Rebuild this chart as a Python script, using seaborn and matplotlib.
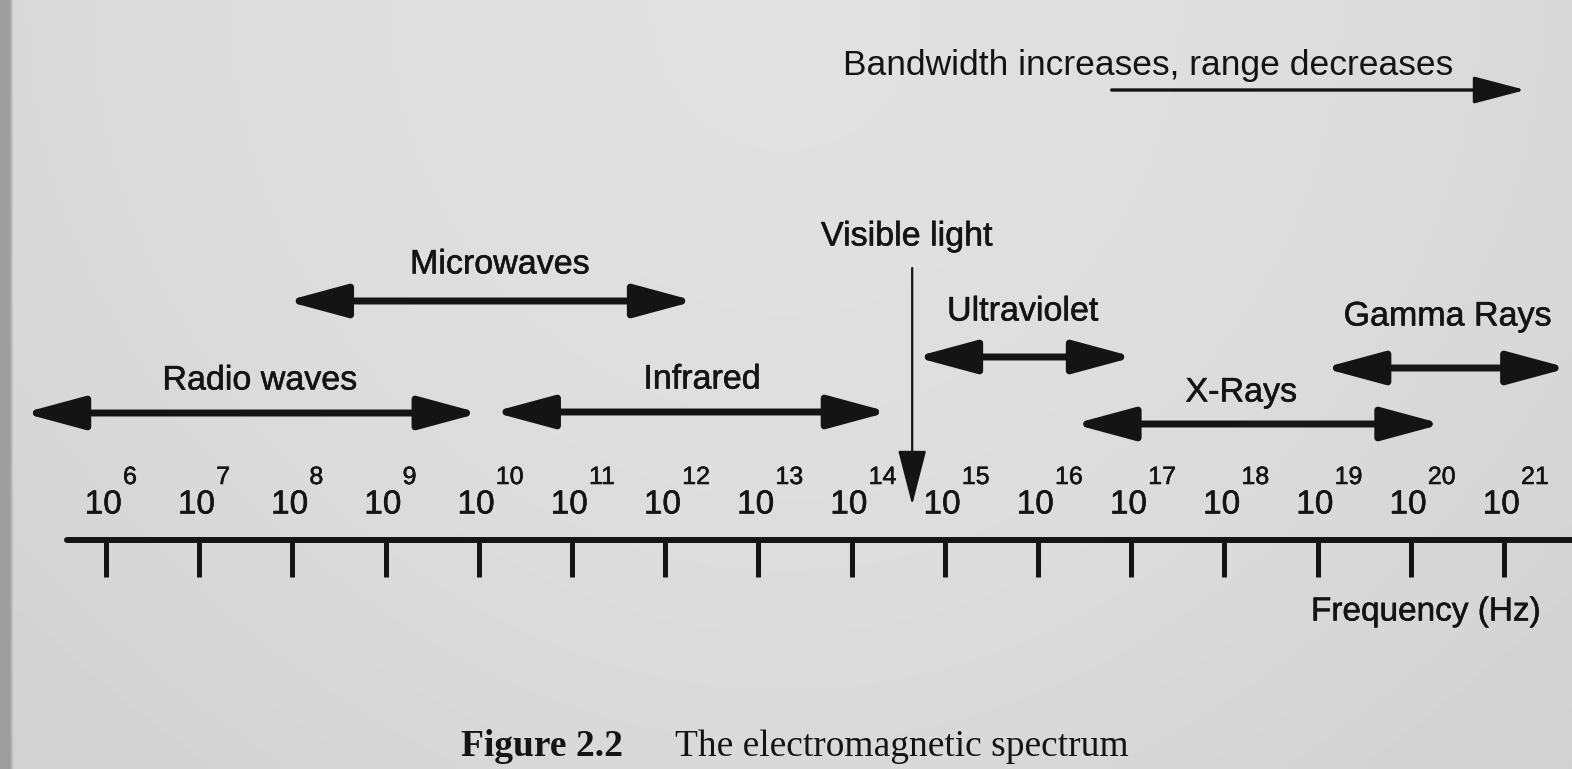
import numpy as np
import matplotlib
matplotlib.use('Agg')
import matplotlib.pyplot as plt
import matplotlib.patheffects as pe
import seaborn as sns

# frequency ranges of each band, as log10(Hz)
bands = ['Radio waves', 'Microwaves', 'Infrared', 'Ultraviolet', 'X-Rays', 'Gamma Rays']
band_lo = [5.11, 7.93, 10.15, 14.68, 16.38, 19.06]
band_hi = [10.01, 12.32, 14.40, 17.03, 20.34, 21.69]
visible_light = 14.65
exponents = list(range(6, 22))
trend_lo, trend_hi = 16.79, 21.23
trend_text = 'Bandwidth increases, range decreases'

# layout (pixels from the top of the page)
W, H = 1572, 769
px_per_decade = 93.2
first_tick_px = 106
arrow_y = [413, 301, 412, 357, 424, 368]
label_y = [381, 265, 380, 312, 393, 317]
label_dx = [0.09, 0.10, 0.12, -0.02, -0.18, 0.02]
axis_y, tick_len = 540, 37

ink = '#141414'
paper = '#dcdcdc'
bold_ink = [pe.withStroke(linewidth=0.4, foreground=ink)]

sns.set_theme(style='white')
plt.rcParams['font.family'] = ['Liberation Sans', 'DejaVu Sans']

fig = plt.figure(figsize=(W / 100, H / 100), dpi=100, facecolor=paper)
ax = fig.add_axes([0, 0, 1, 1])
x0 = exponents[0] - first_tick_px / px_per_decade
x1 = x0 + W / px_per_decade
ax.set_xlim(x0, x1)
ax.set_ylim(H, 0)
ax.set_facecolor(paper)
ax.axis('off')

# paper shading: darker strip at the left edge and slightly darker bottom
xs = np.linspace(0, 1, 400)
ys = np.linspace(0, 1, 60)[:, None]
shade = (0.85 + 0.03 * np.sin(np.pi * xs)) - 0.03 * ys ** 2
shade[:, :3] = 0.62
ax.imshow(shade, cmap='gray', vmin=0, vmax=1, extent=(x0, x1, H, 0),
          aspect='auto', zorder=0, interpolation='bilinear')

# frequency axis
sns.lineplot(x=[exponents[0] - 0.42, x1], y=[axis_y, axis_y], ax=ax,
             color=ink, lw=4.3, zorder=3)
ax.vlines(exponents, axis_y, axis_y + tick_len, color=ink, lw=3.6, zorder=3)
for e in exponents:
    ax.text(e - 0.03, 505, '10', fontsize=24, color=ink, ha='center',
            va='center', zorder=4, path_effects=bold_ink)
    ax.text(e + 17 / px_per_decade, 477, str(e), fontsize=18, color=ink,
            ha='left', va='center', zorder=4, path_effects=bold_ink)
ax.text(x0 + 1426 / px_per_decade, 612, 'Frequency (Hz)', fontsize=24,
        color=ink, ha='center', va='center', zorder=4, path_effects=bold_ink)

# band arrows
for name, lo, hi, ya, yl, dx in zip(bands, band_lo, band_hi, arrow_y, label_y, label_dx):
    ax.annotate('', xy=(hi, ya), xytext=(lo, ya),
                arrowprops=dict(arrowstyle='<|-|>,head_length=1.85,head_width=0.5',
                                mutation_scale=20, lw=5, color=ink,
                                shrinkA=0, shrinkB=0), zorder=4)
    ax.text((lo + hi) / 2 + dx, yl, name, fontsize=24.5, color=ink,
            ha='center', va='center', zorder=4, path_effects=bold_ink)

# visible light marker
ax.annotate('', xy=(visible_light, 505), xytext=(visible_light, 268),
            arrowprops=dict(arrowstyle='-|>,head_length=1.75,head_width=0.45',
                            mutation_scale=20, lw=1.6, color=ink,
                            shrinkA=0, shrinkB=0), zorder=4)
ax.text(visible_light - 0.06, 237, 'Visible light', fontsize=24.5, color=ink,
        ha='center', va='center', zorder=4, path_effects=bold_ink)

# trend arrow at the top
ax.annotate('', xy=(trend_hi, 90), xytext=(trend_lo, 90),
            arrowprops=dict(arrowstyle='-|>,head_length=1.6,head_width=0.42',
                            mutation_scale=20, lw=2.4, color=ink,
                            shrinkA=0, shrinkB=0), zorder=4)
ax.text(x0 + 843 / px_per_decade, 66, trend_text, fontsize=25.5, color=ink,
        ha='left', va='center', zorder=4)

# caption
ax.text(x0 + 461 / px_per_decade, 747, 'Figure 2.2', family='Liberation Serif',
        weight='bold', fontsize=27, color=ink, ha='left', va='center', zorder=4)
ax.text(x0 + 675 / px_per_decade, 747, 'The electromagnetic spectrum',
        family='Liberation Serif', fontsize=27, color=ink, ha='left',
        va='center', zorder=4)

fig.savefig('out.png', dpi=100, facecolor=paper)
